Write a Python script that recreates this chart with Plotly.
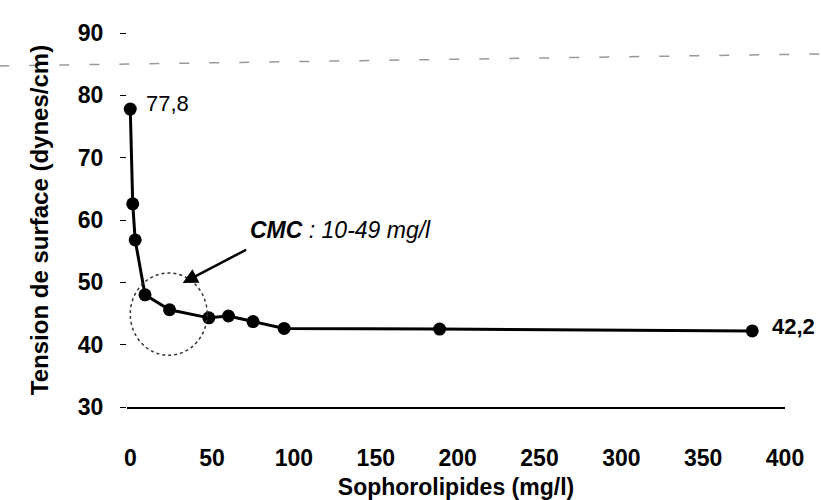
import plotly.graph_objects as go

# Data
sophorolipides = [0, 1.5, 3, 9, 24, 48, 60, 75, 94, 189, 380]
tension = [77.8, 62.6, 56.8, 48.0, 45.6, 44.3, 44.6, 43.7, 42.6, 42.5, 42.2]
x_ticks = [0, 50, 100, 150, 200, 250, 300, 350, 400]
y_ticks = [30, 40, 50, 60, 70, 80, 90]
first_label = "77,8"
last_label = "42,2"
cmc_text = "<b><i>CMC</i></b><i> : 10-49 mg/l</i>"
cmc_circle = dict(x0=0, x1=47, y0=38.3, y1=51.5)
arrow_tip = (32, 49.9)

FONT = "Liberation Sans, Arial, sans-serif"

fig = go.Figure()
fig.add_trace(go.Scatter(
    x=sophorolipides, y=tension, mode="lines+markers",
    line=dict(color="black", width=3),
    marker=dict(color="black", size=13),
    showlegend=False, cliponaxis=False,
))

fig.update_layout(
    width=821, height=500,
    margin=dict(l=127, r=36, t=33, b=93),
    paper_bgcolor="white", plot_bgcolor="white",
    font=dict(family=FONT, color="black"),
    xaxis=dict(
        range=[-2, 400], tickvals=x_ticks, ticks="", showgrid=False, zeroline=False,
        showline=True, linecolor="black", linewidth=1.5, automargin=False,
        tickfont=dict(size=23, family=FONT, weight="bold"),
        ticklabelstandoff=30,
        title=dict(text="<b>Sophorolipides (mg/l)</b>", font=dict(size=23, family=FONT), standoff=10),
    ),
    yaxis=dict(
        range=[30, 90], tickvals=y_ticks, ticks="outside", ticklen=6, tickcolor="black",
        showgrid=False, zeroline=False, showline=False, automargin=False,
        tickfont=dict(size=23, family=FONT, weight="bold"),
        ticklabelstandoff=12,
        title=dict(text="<b>Tension de surface (dynes/cm)</b>", font=dict(size=24, family=FONT), standoff=22),
    ),
)

# circle around CMC region
fig.add_shape(type="circle", xref="x", yref="y", **cmc_circle,
              line=dict(color="#333333", width=1.5, dash="dot"))

# faint dashed scan line across the top
fig.add_shape(type="line", xref="paper", yref="paper",
              x0=-0.194, y0=0.912, x1=1.055, y1=0.944,
              line=dict(color="#999999", width=1.5, dash="10px,20px"))

# labels
fig.add_annotation(x=sophorolipides[0], y=tension[0], text=first_label, showarrow=False,
                   xanchor="left", xshift=14, yshift=6, font=dict(size=22, family=FONT))
fig.add_annotation(x=sophorolipides[-1], y=tension[-1], text="<b>" + last_label + "</b>", showarrow=False,
                   xanchor="left", xshift=18, yshift=4, font=dict(size=22, family=FONT))

# CMC arrow + text
fig.add_annotation(x=arrow_tip[0], y=arrow_tip[1], ax=65, ay=-34, text="",
                   showarrow=True, arrowhead=2, arrowsize=1.2, arrowwidth=2.5, arrowcolor="black",
                   standoff=0)
fig.add_annotation(x=72, y=58.4, text=cmc_text, showarrow=False, xanchor="left",
                   font=dict(size=23, family=FONT))

fig.write_html("out.html")
